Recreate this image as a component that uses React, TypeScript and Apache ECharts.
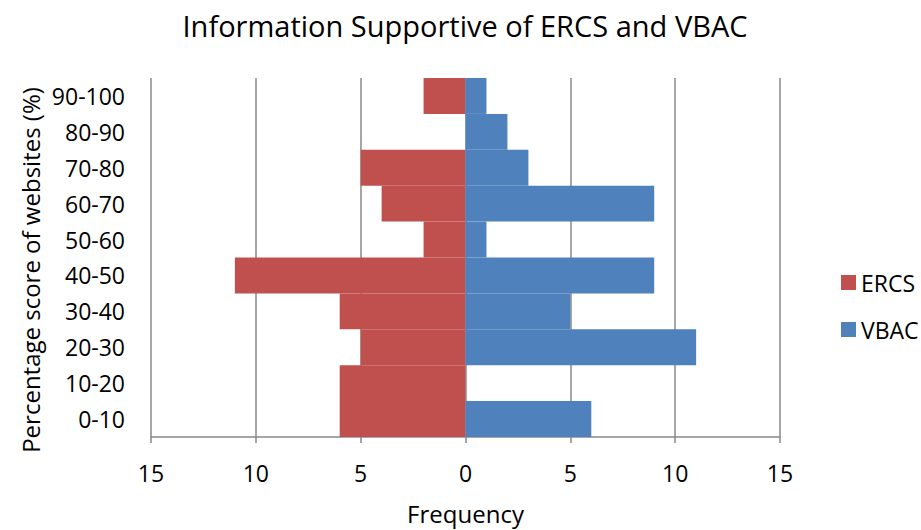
import React, { useEffect, useRef } from "react";
import * as echarts from "echarts";

const categories = ["0-10", "10-20", "20-30", "30-40", "40-50", "50-60", "60-70", "70-80", "80-90", "90-100"];
const ercs = [6, 6, 5, 6, 11, 2, 4, 5, 0, 2];
const vbac = [6, 0, 11, 5, 9, 1, 9, 3, 2, 1];
const xTicks = { min: -15, max: 15, interval: 5 };

const FONT = "'Open Sans', 'Noto Sans', sans-serif";

export default function App() {
  const ref = useRef<HTMLDivElement>(null);
  useEffect(() => {
    if (!ref.current) return;
    const chart = echarts.init(ref.current, undefined, { renderer: "svg" });
    chart.setOption({
      animation: false,
      textStyle: { fontFamily: FONT, color: "#000" },
      title: {
        text: "Information Supportive of ERCS and VBAC",
        left: 460,
        textAlign: "center",
        top: 6,
        textStyle: { fontFamily: FONT, fontSize: 29, fontWeight: "normal", color: "#000" },
      },
      legend: {
        orient: "vertical",
        left: 836,
        top: 266,
        itemWidth: 15,
        itemHeight: 15,
        itemGap: 24,
        icon: "rect",
        textStyle: { fontFamily: FONT, fontSize: 23, color: "#000" },
        data: ["ERCS", "VBAC"],
      },
      graphic: [
        {
          type: "text",
          x: 30,
          y: 270,
          rotation: Math.PI / 2,
          style: {
            text: "Percentage score of websites (%)",
            fontFamily: FONT,
            fontSize: 24,
            fill: "#000",
            align: "center",
            verticalAlign: "middle",
          },
        },
      ],
      grid: { left: 151, right: 141, top: 78, bottom: 88, containLabel: false },
      xAxis: {
        type: "value",
        min: xTicks.min,
        max: xTicks.max,
        interval: xTicks.interval,
        name: "Frequency",
        nameLocation: "middle",
        nameGap: 64,
        nameTextStyle: { fontFamily: FONT, fontSize: 24, color: "#000" },
        axisLine: { show: true, lineStyle: { color: "#888", width: 1.5 } },
        axisTick: { show: true, length: 6, lineStyle: { color: "#888", width: 1.5 } },
        splitLine: { show: true, lineStyle: { color: "#888", width: 1.5 } },
        axisLabel: {
          fontFamily: FONT,
          fontSize: 23,
          color: "#000",
          margin: 24,
          formatter: (v: number) => String(Math.abs(v)),
        },
      },
      yAxis: {
        type: "category",
        data: categories,
        axisLine: { show: false },
        axisTick: { show: false },
        splitLine: { show: false },
        axisLabel: { fontFamily: FONT, fontSize: 23, color: "#000", margin: 26 },
      },
      series: [
        {
          name: "ERCS",
          type: "bar",
          stack: "total",
          barCategoryGap: 0,
          itemStyle: { color: "#C0504D" },
          data: ercs.map((v) => -v),
        },
        {
          name: "VBAC",
          type: "bar",
          stack: "total",
          barCategoryGap: 0,
          itemStyle: { color: "#4F81BD" },
          data: vbac,
        },
      ],
    });
    return () => chart.dispose();
  }, []);
  return (
    <div
      ref={ref}
      style={{ position: "fixed", left: 0, top: 0, width: 921, height: 530, background: "#fff" }}
    />
  );
}
